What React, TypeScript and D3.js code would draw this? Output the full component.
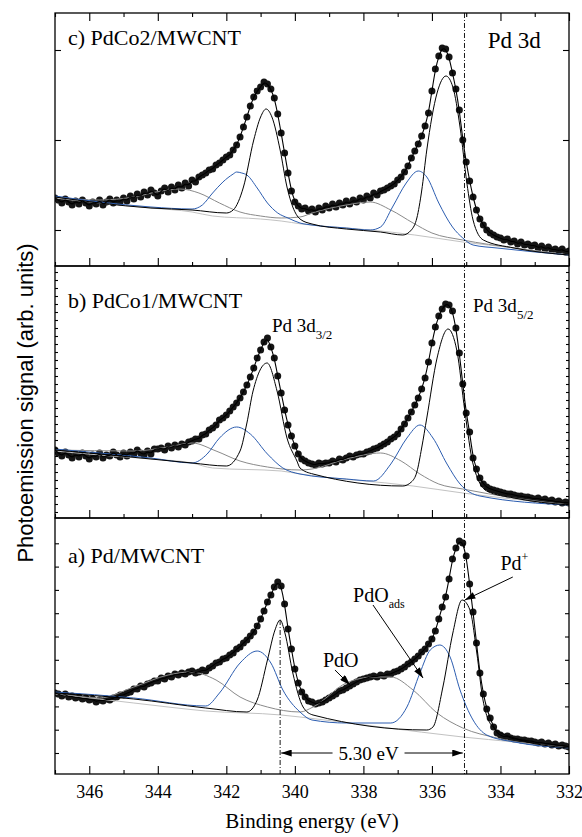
import React, { useEffect, useRef } from "react";
import * as d3 from "d3";

// binding energy grid of the measured points (eV), 0.1 eV step
const energy = d3.range(151).map((i) => +(347 - i * 0.1).toFixed(1));

// measured intensities (arb. units), 347.0 -> 332.0 eV
const dotsC = [
  68, 66, 63, 67, 64, 61, 65, 62, 66, 63,
  60, 64, 62, 66, 61, 64, 67, 63, 66, 64,
  68, 65, 70, 67, 72, 69, 74, 71, 76, 73,
  70, 75, 78, 74, 79, 76, 81, 78, 83, 80,
  86, 84, 89, 91, 93, 96, 97, 101, 103, 106,
  109, 111, 116, 121, 129, 139, 149, 160, 169, 175,
  179, 184, 182, 177, 168, 152, 133, 113, 93, 75,
  64, 60, 57, 58, 55, 57, 54, 58, 56, 60,
  58, 62, 59, 63, 61, 65, 62, 66, 64, 68,
  66, 70, 68, 73, 71, 75, 76, 78, 80, 82,
  86, 89, 94, 100, 108, 115, 122, 130, 140, 153,
  175, 197, 210, 218, 217, 209, 193, 177, 156, 126,
  104, 85, 69, 56, 47, 41, 36, 33, 31, 29,
  28, 26, 27, 24, 25, 22, 24, 21, 22, 20,
  21, 18, 20, 17, 19, 16, 17, 15, 17, 14,
  15,
];

const dotsB = [
  68, 65, 62, 66, 63, 60, 64, 61, 65, 62,
  59, 63, 61, 65, 60, 63, 62, 66, 63, 61,
  65, 62, 66, 64, 68, 65, 63, 67, 64, 69,
  69, 70, 68, 72, 70, 73, 71, 74, 73, 76,
  77, 79, 79, 83, 84, 88, 90, 93, 98, 100,
  103, 107, 111, 115, 120, 126, 133, 141, 150, 160,
  168, 176, 180, 171, 160, 142, 125, 108, 93, 82,
  72, 64, 59, 57, 55, 54, 53, 55, 54, 55,
  55, 57, 56, 59, 58, 60, 62, 61, 63, 64,
  64, 66, 67, 69, 70, 72, 74, 76, 79, 81,
  84, 89, 94, 100, 106, 113, 120, 129, 140, 156,
  175, 191, 202, 209, 214, 213, 207, 190, 165, 134,
  105, 86, 60, 49, 40, 34, 31, 29, 28, 27,
  26, 25, 24, 24, 23, 22, 22, 21, 21, 20,
  19, 20, 18, 19, 17, 18, 16, 17, 15, 16,
  15,
];

const dotsA = [
  81, 80, 78, 80, 77, 78, 76, 77, 75, 76,
  74, 75, 72, 74, 73, 75, 74, 76, 77, 79,
  79, 81, 82, 85, 85, 88, 87, 90, 91, 93,
  93, 96, 95, 98, 97, 100, 99, 101, 100, 102,
  103, 101, 102, 104, 103, 106, 108, 111, 112, 115,
  116, 119, 121, 125, 127, 131, 134, 138, 142, 148,
  155, 163, 172, 179, 187, 192, 188, 170, 145, 125,
  105, 91, 82, 77, 73, 72, 70, 71, 72, 74,
  76, 78, 80, 83, 84, 86, 88, 90, 92, 94,
  95, 96, 97, 98, 97, 99, 98, 100, 100, 102,
  103, 105, 107, 110, 112, 115, 118, 122, 125, 130,
  135, 143, 155, 167, 177, 195, 215, 226, 233, 231,
  218, 190, 162, 131, 101, 80, 65, 56, 47, 41,
  39, 37, 38, 36, 35, 35, 34, 34, 33, 33,
  32, 31, 32, 30, 31, 29, 30, 28, 29, 28,
  27,
];

// fit components [eV, intensity]
const bgC = [[347, 68], [345.7, 63], [344.2, 58], [343, 54], [342.4, 50], [341, 47], [340.4, 45], [339.8, 42], [338.5, 38], [337.8, 36], [336.5, 31], [335.1, 24], [333.6, 18], [332, 11]];
const grayC = [[347, 69], [345.7, 66], [344.7, 69], [343.9, 75], [343.35, 77], [342.8, 73], [342.2, 63], [341.6, 54], [341, 50], [340.4, 48], [339.85, 49], [339.5, 53], [338.5, 61], [337.8, 64], [337.2, 56], [336.55, 43], [336, 33], [335.1, 26], [333.6, 18], [332, 11]];
const blueC = [[347, 70], [345.7, 64], [344.2, 59], [343, 57], [342.7, 61], [342.4, 73], [342.1, 84], [341.8, 92], [341.7, 94], [341.55, 93], [341.4, 91], [341.1, 78], [340.8, 63], [340.5, 53], [340.2, 48], [339.85, 43], [339.5, 41], [338.5, 38], [337.8, 36], [337.5, 39], [337.15, 59], [336.75, 83], [336.4, 95], [336.15, 89], [335.8, 63], [335.4, 39], [335.1, 28], [334.8, 21], [334.1, 18], [332, 11]];
const blackC = [[347, 69], [345.7, 63], [344.2, 58], [343, 56], [342, 53], [341.8, 56], [341.5, 79], [341.2, 126], [341, 149], [340.84, 157], [340.67, 149], [340.43, 116], [340.23, 79], [340.06, 59], [339.85, 47], [339.5, 42], [338.5, 37], [337.5, 34], [336.85, 31], [336.6, 36], [336.44, 48], [336.3, 75], [336.15, 116], [335.85, 173], [335.59, 190], [335.39, 179], [335.18, 139], [334.98, 83], [334.8, 46], [334.5, 26], [333.6, 18], [332, 11]];

const bgB = [[347, 67], [345.7, 63], [344.2, 59], [343, 55], [342.4, 50], [340.4, 47], [339.85, 44], [336.55, 32], [335.1, 25], [332, 13]];
const grayB = [[347, 68], [344.7, 67], [343.7, 71], [343, 75], [342.3, 67], [341.6, 57], [340.8, 51], [339.85, 48], [339.5, 49], [338.5, 59], [337.5, 65], [336.9, 57], [336.35, 44], [335.8, 34], [335.1, 29], [333.6, 20], [332, 13]];
const blueB = [[347, 69], [345.7, 65], [344.2, 60], [343, 55], [342.56, 64], [342.2, 80], [341.7, 91], [341.3, 84], [340.8, 64], [340.35, 50], [339.85, 44], [338.5, 39], [337.7, 37], [337.2, 54], [336.73, 80], [336.35, 93], [335.97, 80], [335.56, 54], [335.18, 34], [334.6, 22], [332, 13]];
const blackB = [[347, 68], [345.7, 64], [344.2, 59], [343, 55], [342, 52], [341.6, 67], [341.4, 95], [341.22, 127], [340.81, 155], [340.52, 127], [340.23, 80], [339.94, 57], [339.85, 50], [339.47, 44], [336.85, 32], [336.6, 36], [336.44, 46], [336.3, 70], [336.15, 100], [335.85, 160], [335.53, 189], [335.27, 167], [335.04, 107], [334.8, 54], [334.4, 27], [333.6, 20], [332, 13]];

const bgA = [[347, 80], [345.7, 75], [344.7, 71], [343.7, 67], [342.6, 63], [340.4, 59], [339.85, 57], [337.5, 47], [335.1, 37], [333.6, 32], [332, 26]];
const grayA = [[347, 81], [345.7, 76], [344.7, 87], [343.7, 99], [343.06, 102], [342.3, 94], [341.6, 77], [340.8, 67], [339.85, 62], [339.47, 67], [338.5, 91], [337.7, 97], [337.2, 97], [336.55, 84], [335.85, 61], [335.1, 46], [334.1, 36], [332, 26]];
const blueA = [[347, 82], [344.7, 76], [342.6, 68], [342.2, 81], [341.6, 111], [341.1, 123], [340.7, 111], [340.35, 84], [339.85, 62], [339.5, 54], [338.5, 51], [337.2, 51], [336.73, 67], [336.35, 101], [336.05, 124], [335.77, 129], [335.47, 117], [335.18, 84], [334.8, 54], [334.4, 39], [333.6, 32], [332, 26]];
const blackA = [[347, 81], [344.7, 75], [342.6, 66], [341.4, 62], [341.1, 74], [340.8, 114], [340.58, 144], [340.43, 154], [340.29, 141], [340.06, 101], [339.76, 67], [339.47, 59], [336.15, 44], [335.97, 47], [335.68, 87], [335.39, 141], [335.12, 174], [334.89, 164], [334.69, 121], [334.51, 74], [334.22, 47], [333.6, 36], [332, 26]];

const xMajor = [346, 344, 342, 340, 338, 336, 334, 332];
const xMinor = [347, 345, 343, 341, 339, 337, 335, 333];
const yTicksC = [36, 126, 216];
const yTicksB = d3.range(6, 250, 8);
const yTicksA = d3.range(21, 240, 23.3);

const panels = [
  { id: "c", top: 13, bottom: 266, vmax: 253, dots: dotsC, bg: bgC, gray: grayC, blue: blueC, black: blackC, ticks: yTicksC, tick: 6, label: "c) PdCo2/MWCNT", labelY: 45 },
  { id: "b", top: 266, bottom: 518, vmax: 252, dots: dotsB, bg: bgB, gray: grayB, blue: blueB, black: blackB, ticks: yTicksB, tick: 3, label: "b) PdCo1/MWCNT", labelY: 308 },
  { id: "a", top: 518, bottom: 774, vmax: 256, dots: dotsA, bg: bgA, gray: grayA, blue: blueA, black: blackA, ticks: yTicksA, tick: 4, label: "a) Pd/MWCNT", labelY: 563 },
];

export default function App() {
  const ref = useRef<SVGSVGElement>(null);

  useEffect(() => {
    const width = 582;
    const height = 837;
    const left = 55;
    const right = 569;
    const serif = "Liberation Serif, DejaVu Serif, serif";
    const svg = d3.select(ref.current).attr("width", width).attr("height", height);
    svg.selectAll("*").remove();

    const x = d3.scaleLinear().domain([347, 332]).range([left, right]);

    const defs = svg.append("defs");
    defs
      .append("marker")
      .attr("id", "head")
      .attr("viewBox", "0 0 12 8")
      .attr("refX", 12)
      .attr("refY", 4)
      .attr("markerWidth", 11)
      .attr("markerHeight", 7)
      .attr("markerUnits", "userSpaceOnUse")
      .attr("orient", "auto")
      .append("path")
      .attr("d", "M0,0 L12,4 L0,8 z")
      .attr("fill", "#000");

    const scales: Record<string, d3.ScaleLinear<number, number>> = {};

    panels.forEach((p) => {
      const y = d3.scaleLinear().domain([0, p.vmax]).range([p.bottom, p.top]);
      scales[p.id] = y;
      const clipId = `clip-${p.id}`;
      defs
        .append("clipPath")
        .attr("id", clipId)
        .append("rect")
        .attr("x", left)
        .attr("y", p.top)
        .attr("width", right - left)
        .attr("height", p.bottom - p.top);

      const g = svg.append("g").attr("clip-path", `url(#${clipId})`);

      // measured points
      g.selectAll("circle")
        .data(p.dots)
        .join("circle")
        .attr("cx", (d, j) => x(energy[j]))
        .attr("cy", (d) => y(d))
        .attr("r", 3.5)
        .attr("fill", "#151515");

      const comp = d3
        .line<number[]>()
        .x((d) => x(d[0]))
        .y((d) => y(d[1]))
        .curve(d3.curveMonotoneX);

      const series = [
        { d: p.bg, c: "#c2c2c2" },
        { d: p.gray, c: "#8a8a8a" },
        { d: p.blue, c: "#2c5db0" },
        { d: p.black, c: "#000" },
      ];
      series.forEach((s) => {
        g.append("path")
          .attr("d", comp(s.d))
          .attr("fill", "none")
          .attr("stroke", s.c)
          .attr("stroke-width", 1);
      });

      // envelope
      const env = d3
        .line<number>()
        .x((d, j) => x(energy[j]))
        .y((d) => y(d))
        .curve(d3.curveBasis);
      g.append("path")
        .attr("d", env(p.dots))
        .attr("fill", "none")
        .attr("stroke", "#000")
        .attr("stroke-width", 1.1);

      // frame
      svg
        .append("rect")
        .attr("x", left)
        .attr("y", p.top)
        .attr("width", right - left)
        .attr("height", p.bottom - p.top)
        .attr("fill", "none")
        .attr("stroke", "#000")
        .attr("stroke-width", 1.3);

      // inward ticks on the bottom edge
      const bot = svg.append("g").attr("transform", `translate(0,${p.bottom})`);
      bot.append("g").call(d3.axisTop(x).tickValues(xMajor).tickSize(8).tickFormat(() => ""));
      bot.append("g").call(d3.axisTop(x).tickValues(xMinor).tickSize(4).tickFormat(() => ""));
      if (p.id === "c") {
        const topAx = svg.append("g").attr("transform", `translate(0,${p.top})`);
        topAx.append("g").call(d3.axisBottom(x).tickValues(xMajor).tickSize(8).tickFormat(() => ""));
        topAx.append("g").call(d3.axisBottom(x).tickValues(xMinor).tickSize(4).tickFormat(() => ""));
      }
      svg
        .append("g")
        .attr("transform", `translate(${left},0)`)
        .call(d3.axisRight(y).tickValues(p.ticks).tickSize(p.tick).tickFormat(() => ""));
      svg
        .append("g")
        .attr("transform", `translate(${right},0)`)
        .call(d3.axisLeft(y).tickValues(p.ticks).tickSize(p.tick).tickFormat(() => ""));

      svg
        .append("text")
        .attr("x", 68)
        .attr("y", p.labelY)
        .style("font-family", serif)
        .attr("font-size", 22)
        .attr("fill", "#000")
        .text(p.label);
    });

    svg.selectAll(".domain").remove();
    svg.selectAll(".tick line").attr("stroke", "#000").attr("stroke-width", 1.1);

    // tick labels
    const xl = svg
      .append("g")
      .attr("transform", `translate(0,774)`)
      .call(d3.axisBottom(x).tickValues(xMajor).tickSize(0).tickPadding(11).tickFormat(d3.format("d")));
    xl.select(".domain").remove();
    xl.attr("font-family", null).attr("font-size", null);
    xl.selectAll("text").style("font-family", serif).attr("font-size", 18).attr("fill", "#000");

    svg
      .append("text")
      .attr("x", (left + right) / 2)
      .attr("y", 828)
      .attr("text-anchor", "middle")
      .style("font-family", serif)
      .attr("font-size", 21)
      .text("Binding energy (eV)");

    svg
      .append("text")
      .attr("transform", `translate(33,403) rotate(-90)`)
      .attr("text-anchor", "middle")
      .style("font-family", "Liberation Sans, Arial, sans-serif")
      .attr("font-size", 22)
      .text("Photoemission signal (arb. units)");

    const yA = scales["a"];
    const yB = scales["b"];

    // dash-dot reference lines
    svg
      .append("line")
      .attr("x1", x(335.05))
      .attr("x2", x(335.05))
      .attr("y1", 13)
      .attr("y2", 774)
      .attr("stroke", "#000")
      .attr("stroke-width", 0.9)
      .attr("stroke-dasharray", "5,2,1,2");
    svg
      .append("line")
      .attr("x1", x(340.43))
      .attr("x2", x(340.43))
      .attr("y1", yA(154))
      .attr("y2", 774)
      .attr("stroke", "#000")
      .attr("stroke-width", 0.9)
      .attr("stroke-dasharray", "5,2,1,2");

    const arrow = (x1: number, y1: number, x2: number, y2: number) =>
      svg
        .append("line")
        .attr("x1", x1)
        .attr("y1", y1)
        .attr("x2", x2)
        .attr("y2", y2)
        .attr("stroke", "#000")
        .attr("stroke-width", 1)
        .attr("marker-end", "url(#head)");

    // 5.30 eV spacing
    arrow(x(338.9), yA(21), x(340.4), yA(21));
    arrow(x(336.8), yA(21), x(335.1), yA(21));
    svg
      .append("text")
      .attr("x", x(337.85))
      .attr("y", yA(14))
      .attr("text-anchor", "middle")
      .style("font-family", serif)
      .attr("font-size", 19)
      .text("5.30 eV");

    // peak annotations (panel a)
    arrow(x(333.64), yA(197), x(335.04), yA(174));
    arrow(x(337.72), yA(169), x(336.26), yA(96));
    arrow(x(338.83), yA(104), x(338.39), yA(89));

    const pdp = svg
      .append("text")
      .attr("x", x(334.0))
      .attr("y", yA(204))
      .style("font-family", serif)
      .attr("font-size", 20)
      .text("Pd");
    pdp.append("tspan").attr("font-size", 12).attr("dy", -9).text("+");

    const ads = svg
      .append("text")
      .attr("x", x(338.3))
      .attr("y", yA(172))
      .style("font-family", serif)
      .attr("font-size", 20)
      .text("PdO");
    ads.append("tspan").attr("font-size", 12).attr("dy", 6).text("ads");

    svg
      .append("text")
      .attr("x", x(339.18))
      .attr("y", yA(107))
      .style("font-family", serif)
      .attr("font-size", 20)
      .text("PdO");

    // spin-orbit labels (panel b)
    const d32 = svg
      .append("text")
      .attr("x", x(340.67))
      .attr("y", yB(186))
      .style("font-family", serif)
      .attr("font-size", 19)
      .text("Pd 3d");
    d32.append("tspan").attr("font-size", 13).attr("dy", 7).text("3/2");

    const d52 = svg
      .append("text")
      .attr("x", x(334.8))
      .attr("y", yB(206))
      .style("font-family", serif)
      .attr("font-size", 19)
      .text("Pd 3d");
    d52.append("tspan").attr("font-size", 13).attr("dy", 7).text("5/2");

    svg
      .append("text")
      .attr("x", x(334.37))
      .attr("y", 48)
      .style("font-family", serif)
      .attr("font-size", 23)
      .text("Pd 3d");
  }, []);

  return <svg ref={ref} style={{ position: "absolute", left: 0, top: 0 }} />;
}
